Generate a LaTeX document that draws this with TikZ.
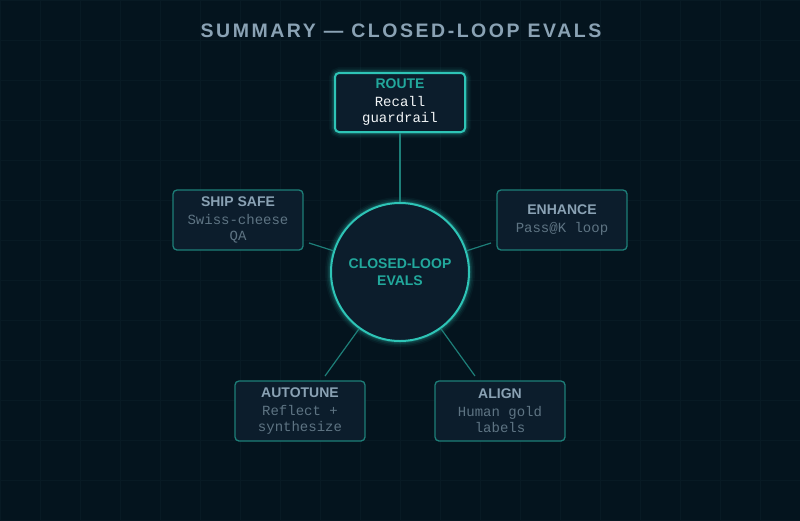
\documentclass[tikz,border=0pt]{standalone}
\usepackage{fontspec}
\setmainfont{Liberation Sans}
\setmonofont{Liberation Mono}
\begin{document}
\definecolor{bg}{HTML}{04141E}
\definecolor{boxf}{HTML}{0C1D2C}
\definecolor{teal}{HTML}{2EC4B6}
\definecolor{dimteal}{HTML}{1D7E78}
\definecolor{ttl}{HTML}{8AA2B4}
\definecolor{sub}{HTML}{5E7483}
\definecolor{head}{HTML}{22A89C}
\definecolor{gridc}{HTML}{081A24}
\newcommand{\hdt}[2]{\textcolor{#1}{\bfseries #2}}
\newcommand{\mt}[2]{\textcolor{#1}{\ttfamily #2}}
\begin{tikzpicture}[x=1pt,y=-1pt,
  box/.style={draw=dimteal,line width=1.3pt,fill=boxf,rounded corners=4pt,minimum width=130pt,minimum height=60pt,align=center,inner sep=0pt,font=\fontsize{14}{16}\selectfont},
  conn/.style={draw=dimteal,line width=1.2pt}]
\fill[bg] (0,0) rectangle (800,520);
\useasboundingbox (0,0) rectangle (800,520);
\foreach \i in {0,40,...,800} \draw[gridc,line width=0.5pt] (\i,0) -- (\i,520);
\foreach \i in {0,40,...,520} \draw[gridc,line width=0.5pt] (0,\i) -- (800,\i);
\node[font=\bfseries\fontsize{19.5}{22}\selectfont\addfontfeature{LetterSpace=13},text=ttl] (t) at (401,31) {SUMMARY — CLOSED-LOOP EVALS};
\foreach \w/\o in {12/0.05,9/0.08,6/0.12,3.5/0.2}{
  \draw[teal,opacity=\o,line width=\w pt] (400,272) circle (69);
  \draw[teal,opacity=\o,line width=\w pt,rounded corners=5pt] (335,73) rectangle (465,132);
}
\node[circle,draw=teal,line width=2pt,fill=boxf,minimum size=138pt,inner sep=0pt,align=center,font=\bfseries\fontsize{14}{17}\selectfont,text=head] (c) at (400,272) {CLOSED-LOOP\\EVALS};
\node[box,draw=teal,line width=2pt,minimum height=59pt] (r) at (400,102.5) {\hdt{head}{ROUTE}\\[2pt]\mt{white!88!ttl}{Recall}\\\mt{white!88!ttl}{guardrail}};
\node[box] (s) at (238,220) {\hdt{ttl}{SHIP SAFE}\\[2pt]\mt{sub}{Swiss-cheese}\\\mt{sub}{QA}};
\node[box] (e) at (562,220) {\hdt{ttl}{ENHANCE}\\[2pt]\mt{sub}{Pass@K loop}};
\node[box] (a) at (300,411) {\hdt{ttl}{AUTOTUNE}\\[2pt]\mt{sub}{Reflect +}\\\mt{sub}{synthesize}};
\node[box] (g) at (500,411) {\hdt{ttl}{ALIGN}\\[2pt]\mt{sub}{Human gold}\\\mt{sub}{labels}};
\coordinate (sl) at (309,243);
\coordinate (el) at (491,243);
\coordinate (al) at (325,376);
\coordinate (gl) at (475,376);
\draw[conn,line width=1.8pt] (r) -- (c);
\draw[conn] (c) -- (sl);
\draw[conn] (c) -- (el);
\draw[conn] (c) -- (al);
\draw[conn] (c) -- (gl);
\end{tikzpicture}
\end{document}
